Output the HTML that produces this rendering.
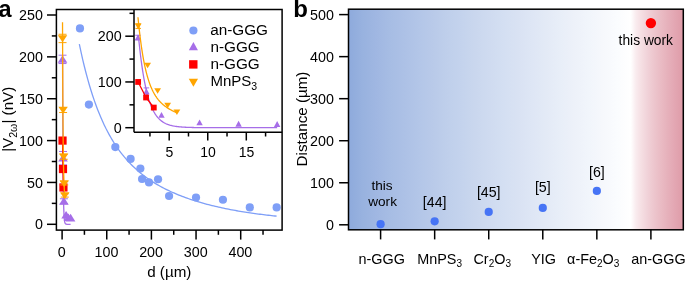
<!DOCTYPE html><html><head><meta charset="utf-8"><style>html,body{margin:0;padding:0;background:#fff;overflow:hidden}svg{display:block}</style></head><body><svg width="685" height="281" viewBox="0 0 685 281" font-family="Liberation Sans">
<defs><linearGradient id="g" x1="0" x2="1" y1="0" y2="0"><stop offset="0.0000" stop-color="rgb(142,170,220)"/><stop offset="0.0421" stop-color="rgb(152,178,223)"/><stop offset="0.0843" stop-color="rgb(160,183,226)"/><stop offset="0.1264" stop-color="rgb(167,189,228)"/><stop offset="0.1686" stop-color="rgb(173,193,230)"/><stop offset="0.2107" stop-color="rgb(179,198,232)"/><stop offset="0.2529" stop-color="rgb(185,202,233)"/><stop offset="0.2950" stop-color="rgb(191,207,235)"/><stop offset="0.3372" stop-color="rgb(196,211,237)"/><stop offset="0.3794" stop-color="rgb(202,215,238)"/><stop offset="0.4215" stop-color="rgb(207,219,240)"/><stop offset="0.4637" stop-color="rgb(212,223,242)"/><stop offset="0.5058" stop-color="rgb(217,226,243)"/><stop offset="0.5480" stop-color="rgb(222,230,245)"/><stop offset="0.5901" stop-color="rgb(227,234,246)"/><stop offset="0.6322" stop-color="rgb(232,238,248)"/><stop offset="0.6744" stop-color="rgb(237,241,249)"/><stop offset="0.7165" stop-color="rgb(241,245,251)"/><stop offset="0.7587" stop-color="rgb(246,248,252)"/><stop offset="0.8008" stop-color="rgb(250,252,254)"/><stop offset="0.8430" stop-color="rgb(255,255,255)"/><stop offset="0.8587" stop-color="rgb(249,235,238)"/><stop offset="0.8744" stop-color="rgb(245,223,227)"/><stop offset="0.8901" stop-color="rgb(241,212,218)"/><stop offset="0.9058" stop-color="rgb(238,202,209)"/><stop offset="0.9215" stop-color="rgb(235,193,201)"/><stop offset="0.9372" stop-color="rgb(233,185,194)"/><stop offset="0.9529" stop-color="rgb(230,177,187)"/><stop offset="0.9686" stop-color="rgb(228,169,181)"/><stop offset="0.9843" stop-color="rgb(225,162,174)"/><stop offset="1.0000" stop-color="rgb(223,155,168)"/></linearGradient><clipPath id="ca"><rect x="56.4" y="9.5" width="225.70000000000002" height="220.6"/></clipPath><clipPath id="ci"><rect x="134.0" y="9.5" width="148.10000000000002" height="122.69999999999999"/></clipPath></defs>
<rect width="685" height="281" fill="#fff"/>
<g style="will-change:transform">
<g clip-path="url(#ca)">
<path d="M79.33,44.16L80.99,51.97L82.65,59.31L84.31,66.24L85.97,72.77L87.63,78.93L89.28,84.75L90.94,90.25L92.6,95.45L94.26,100.36L95.92,105.02L97.57,109.43L99.23,113.61L100.89,117.57L102.55,121.33L104.21,124.91L105.86,128.31L107.52,131.54L109.18,134.61L110.84,137.54L112.5,140.34L114.15,143L115.81,145.55L117.47,147.98L119.13,150.3L120.79,152.52L122.44,154.65L124.1,156.69L125.76,158.64L127.42,160.52L129.08,162.32L130.73,164.05L132.39,165.71L134.05,167.31L135.71,168.85L137.37,170.33L139.02,171.75L140.68,173.13L142.34,174.46L144,175.74L145.66,176.98L147.32,178.17L148.97,179.33L150.63,180.45L152.29,181.53L153.95,182.58L155.61,183.59L157.26,184.58L158.92,185.53L160.58,186.46L162.24,187.36L163.9,188.23L165.55,189.07L167.21,189.9L168.87,190.69L170.53,191.47L172.19,192.23L173.84,192.96L175.5,193.68L177.16,194.37L178.82,195.05L180.48,195.71L182.13,196.35L183.79,196.98L185.45,197.59L187.11,198.18L188.77,198.76L190.42,199.33L192.08,199.88L193.74,200.42L195.4,200.94L197.06,201.45L198.71,201.95L200.37,202.44L202.03,202.92L203.69,203.38L205.35,203.83L207.01,204.28L208.66,204.71L210.32,205.13L211.98,205.55L213.64,205.95L215.3,206.35L216.95,206.73L218.61,207.11L220.27,207.48L221.93,207.84L223.59,208.19L225.24,208.53L226.9,208.87L228.56,209.2L230.22,209.52L231.88,209.84L233.53,210.14L235.19,210.45L236.85,210.74L238.51,211.03L240.17,211.31L241.82,211.59L243.48,211.86L245.14,212.12L246.8,212.38L248.46,212.63L250.11,212.88L251.77,213.12L253.43,213.35L255.09,213.59L256.75,213.81L258.4,214.03L260.06,214.25L261.72,214.46L263.38,214.67L265.04,214.87L266.69,215.07L268.35,215.27L270.01,215.46L271.67,215.64L273.33,215.83L274.99,216.01L276.64,216.18" fill="none" stroke="#7f9ff7" stroke-width="1.3" stroke-linejoin="round"/>
<circle cx="79.96" cy="28.4" r="4.1" fill="#7f9ff7"/>
<circle cx="88.89" cy="104.58" r="4.1" fill="#7f9ff7"/>
<circle cx="115.32" cy="147.11" r="4.1" fill="#7f9ff7"/>
<circle cx="130.59" cy="158.91" r="4.1" fill="#7f9ff7"/>
<circle cx="140.37" cy="168.54" r="4.1" fill="#7f9ff7"/>
<circle cx="142.07" cy="179.01" r="4.1" fill="#7f9ff7"/>
<circle cx="148.99" cy="182.44" r="4.1" fill="#7f9ff7"/>
<circle cx="158.05" cy="179.26" r="4.1" fill="#7f9ff7"/>
<circle cx="169.08" cy="196" r="4.1" fill="#7f9ff7"/>
<circle cx="196.01" cy="197.51" r="4.1" fill="#7f9ff7"/>
<circle cx="222.93" cy="199.77" r="4.1" fill="#7f9ff7"/>
<circle cx="249.81" cy="207.47" r="4.1" fill="#7f9ff7"/>
<circle cx="276.64" cy="207.47" r="4.1" fill="#7f9ff7"/>
<path d="M62.55,54.99L62.59,67.86L62.63,79.76L62.67,90.75L62.71,100.9L62.75,110.28L62.79,118.95L62.83,126.96L62.87,134.36L62.91,141.2L62.95,147.52L62.99,153.36L63.03,158.75L63.07,163.74L63.11,168.34L63.15,172.6L63.19,176.53L63.23,180.16L63.27,183.52L63.31,186.62L63.35,189.48L63.39,192.13L63.44,194.58L63.48,196.84L63.52,198.92L63.56,200.85L63.6,202.64L63.64,204.28L63.68,205.81L63.72,207.21L63.76,208.51L63.8,209.71L63.84,210.82L63.88,211.85L63.92,212.79L63.96,213.67L64,214.48L64.04,215.22L64.08,215.91L64.12,216.55L64.16,217.14L64.2,217.68L64.24,218.19L64.28,218.65L64.32,219.08L64.36,219.48L64.4,219.84L64.44,220.18L64.49,220.5L64.53,220.79L64.57,221.05L64.61,221.3L64.65,221.53L64.69,221.74L64.73,221.93L64.77,222.11L64.81,222.28L64.85,222.43L64.89,222.58L64.93,222.71L64.97,222.83L65.01,222.94L65.05,223.04L65.09,223.14L65.13,223.23L65.17,223.31L65.21,223.38L65.25,223.45L65.29,223.52L65.33,223.58L65.37,223.63L65.41,223.68L65.45,223.73L65.49,223.77L65.54,223.81L65.58,223.85L65.62,223.88L65.66,223.92L65.7,223.95L65.74,223.97L65.78,224L65.82,224.02L65.86,224.04L65.9,224.06L65.94,224.08L65.98,224.1L66.02,224.11L66.06,224.13L66.1,224.14L66.14,224.15L66.18,224.16L66.22,224.17L66.26,224.18L66.3,224.19L66.34,224.2L66.38,224.21L66.42,224.21L66.46,224.22L66.5,224.23L66.54,224.23L66.59,224.24L66.63,224.24L66.67,224.25L66.71,224.25L66.75,224.25L66.79,224.26L66.83,224.26L66.87,224.26L66.91,224.27L66.95,224.27L66.99,224.27L67.03,224.27L67.07,224.28L67.11,224.28L67.15,224.28L67.19,224.28L67.23,224.28L67.27,224.28L67.31,224.29L67.35,224.29L67.39,224.29L67.43,224.29L67.47,224.29L67.51,224.29L67.55,224.29L67.59,224.29L67.64,224.29L67.68,224.29L67.72,224.29L67.76,224.29L67.8,224.29L67.84,224.29L67.88,224.3L67.92,224.3L67.96,224.3L68,224.3L68.04,224.3L68.08,224.3L68.12,224.3L68.16,224.3L68.2,224.3L68.24,224.3L68.28,224.3L68.32,224.3L68.36,224.3L68.4,224.3L68.44,224.3L68.48,224.3L68.52,224.3L68.56,224.3L68.6,224.3L68.64,224.3L68.69,224.3L68.73,224.3L68.77,224.3L68.81,224.3L68.85,224.3L68.89,224.3L68.93,224.3L68.97,224.3L69.01,224.3L69.05,224.3L69.09,224.3L69.13,224.3L69.17,224.3L69.21,224.3L69.25,224.3L69.29,224.3L69.33,224.3L69.37,224.3L69.41,224.3L69.45,224.3L69.49,224.3L69.53,224.3L69.57,224.3L69.61,224.3L69.65,224.3L69.69,224.3L69.74,224.3L69.78,224.3L69.82,224.3L69.86,224.3L69.9,224.3L69.94,224.3L69.98,224.3L70.02,224.3L70.06,224.3L70.1,224.3L70.14,224.3L70.18,224.3L70.22,224.3L70.26,224.3L70.3,224.3L70.34,224.3L70.38,224.3L70.42,224.3L70.46,224.3L70.5,224.3L70.54,224.3L70.58,224.3" fill="none" stroke="#a66ee8" stroke-width="1.3" stroke-linejoin="round"/>
<line x1="62.52" y1="55.19" x2="62.52" y2="63.56" stroke="#a66ee8" stroke-width="1"/>
<line x1="58.52" y1="55.19" x2="66.52" y2="55.19" stroke="#a66ee8" stroke-width="1"/>
<line x1="58.52" y1="63.56" x2="66.52" y2="63.56" stroke="#a66ee8" stroke-width="1"/>
<path d="M62.52,55.19L67.32,62.79L57.72,62.79Z" fill="#a66ee8"/>
<line x1="63.01" y1="151.46" x2="63.01" y2="164.86" stroke="#a66ee8" stroke-width="1"/>
<line x1="59.01" y1="151.46" x2="67.01" y2="151.46" stroke="#a66ee8" stroke-width="1"/>
<line x1="59.01" y1="164.86" x2="67.01" y2="164.86" stroke="#a66ee8" stroke-width="1"/>
<path d="M63.01,153.98L67.81,161.58L58.21,161.58Z" fill="#a66ee8"/>
<line x1="63.89" y1="198.77" x2="63.89" y2="203.79" stroke="#a66ee8" stroke-width="1"/>
<line x1="59.89" y1="198.77" x2="67.89" y2="198.77" stroke="#a66ee8" stroke-width="1"/>
<line x1="59.89" y1="203.79" x2="67.89" y2="203.79" stroke="#a66ee8" stroke-width="1"/>
<path d="M63.89,197.1L68.69,204.7L59.09,204.7Z" fill="#a66ee8"/>
<path d="M66.09,210.91L70.89,218.51L61.29,218.51Z" fill="#a66ee8"/>
<path d="M68.35,213.42L73.15,221.02L63.55,221.02Z" fill="#a66ee8"/>
<path d="M70.58,213.84L75.38,221.44L65.78,221.44Z" fill="#a66ee8"/>
<path d="M62.53,140.58L62.99,169.04L63.44,187.46" fill="none" stroke="#ff0000" stroke-width="1.3" stroke-linejoin="round"/>
<rect x="58.43" y="136.48" width="8.2" height="8.2" fill="#ff0000"/>
<rect x="58.89" y="164.94" width="8.2" height="8.2" fill="#ff0000"/>
<rect x="59.34" y="183.36" width="8.2" height="8.2" fill="#ff0000"/>
<path d="M62.52,22.26L62.55,29.56L62.57,36.53L62.59,43.17L62.62,49.51L62.64,55.56L62.66,61.33L62.68,66.84L62.71,72.1L62.73,77.13L62.75,81.93L62.77,86.51L62.8,90.89L62.82,95.07L62.84,99.07L62.87,102.9L62.89,106.55L62.91,110.05L62.93,113.4L62.96,116.6L62.98,119.66L63,122.6L63.03,125.41L63.05,128.1L63.07,130.68L63.09,133.15L63.12,135.52L63.14,137.79L63.16,139.97L63.18,142.06L63.21,144.07L63.23,145.99L63.25,147.84L63.28,149.62L63.3,151.33L63.32,152.98L63.34,154.56L63.37,156.08L63.39,157.54L63.41,158.95L63.44,160.31L63.46,161.61L63.48,162.88L63.5,164.09L63.53,165.26L63.55,166.4L63.57,167.49L63.59,168.54L63.62,169.56L63.64,170.55L63.66,171.5L63.69,172.43L63.71,173.32L63.73,174.18L63.75,175.02L63.78,175.83L63.8,176.62L63.82,177.38L63.85,178.12L63.87,178.84L63.89,179.54L63.91,180.22L63.94,180.88L63.96,181.52L63.98,182.15L64,182.75L64.03,183.34L64.05,183.92L64.07,184.48L64.1,185.03L64.12,185.56L64.14,186.08L64.16,186.59L64.19,187.09L64.21,187.57L64.23,188.05L64.26,188.51L64.28,188.96L64.3,189.41L64.32,189.84L64.35,190.26L64.37,190.68L64.39,191.09L64.41,191.49L64.44,191.88L64.46,192.26L64.48,192.64L64.51,193.01L64.53,193.37L64.55,193.73L64.57,194.07L64.6,194.42L64.62,194.75L64.64,195.09L64.67,195.41L64.69,195.73L64.71,196.05L64.73,196.36L64.76,196.66L64.78,196.96" fill="none" stroke="#ffa500" stroke-width="1.3" stroke-linejoin="round"/>
<line x1="62.54" y1="34.26" x2="62.54" y2="42.63" stroke="#ffa500" stroke-width="1"/>
<line x1="58.54" y1="34.26" x2="66.54" y2="34.26" stroke="#ffa500" stroke-width="1"/>
<line x1="58.54" y1="42.63" x2="66.54" y2="42.63" stroke="#ffa500" stroke-width="1"/>
<path d="M62.54,42.29L67.24,35.29L57.84,35.29Z" fill="#ffa500"/>
<line x1="63.08" y1="107.51" x2="63.08" y2="112.53" stroke="#ffa500" stroke-width="1"/>
<line x1="59.08" y1="107.51" x2="67.08" y2="107.51" stroke="#ffa500" stroke-width="1"/>
<line x1="59.08" y1="112.53" x2="67.08" y2="112.53" stroke="#ffa500" stroke-width="1"/>
<path d="M63.08,113.87L67.78,106.87L58.38,106.87Z" fill="#ffa500"/>
<line x1="63.66" y1="154.23" x2="63.66" y2="159.25" stroke="#ffa500" stroke-width="1"/>
<line x1="59.66" y1="154.23" x2="67.66" y2="154.23" stroke="#ffa500" stroke-width="1"/>
<line x1="59.66" y1="159.25" x2="67.66" y2="159.25" stroke="#ffa500" stroke-width="1"/>
<path d="M63.66,160.59L68.36,153.59L58.96,153.59Z" fill="#ffa500"/>
<line x1="64.24" y1="181.6" x2="64.24" y2="184.95" stroke="#ffa500" stroke-width="1"/>
<line x1="60.24" y1="181.6" x2="68.24" y2="181.6" stroke="#ffa500" stroke-width="1"/>
<line x1="60.24" y1="184.95" x2="68.24" y2="184.95" stroke="#ffa500" stroke-width="1"/>
<path d="M64.24,187.13L68.94,180.13L59.54,180.13Z" fill="#ffa500"/>
<line x1="64.78" y1="193.74" x2="64.78" y2="197.09" stroke="#ffa500" stroke-width="1"/>
<line x1="60.78" y1="193.74" x2="68.78" y2="193.74" stroke="#ffa500" stroke-width="1"/>
<line x1="60.78" y1="197.09" x2="68.78" y2="197.09" stroke="#ffa500" stroke-width="1"/>
<path d="M64.78,199.27L69.48,192.27L60.08,192.27Z" fill="#ffa500"/>
</g>
<rect x="134.0" y="9.5" width="148.10000000000002" height="122.69999999999999" fill="#fff"/>
<g clip-path="url(#ci)">
<path d="M138.36,35.18L139.06,42.21L139.75,48.71L140.45,54.72L141.15,60.27L141.85,65.39L142.54,70.13L143.24,74.51L143.94,78.55L144.64,82.29L145.33,85.74L146.03,88.93L146.73,91.88L147.43,94.6L148.12,97.12L148.82,99.45L149.52,101.59L150.22,103.58L150.91,105.41L151.61,107.11L152.31,108.67L153.01,110.12L153.7,111.46L154.4,112.69L155.1,113.83L155.79,114.89L156.49,115.86L157.19,116.76L157.89,117.59L158.58,118.36L159.28,119.07L159.98,119.73L160.68,120.33L161.37,120.89L162.07,121.41L162.77,121.89L163.47,122.33L164.16,122.74L164.86,123.12L165.56,123.47L166.26,123.79L166.95,124.08L167.65,124.36L168.35,124.61L169.05,124.85L169.74,125.07L170.44,125.27L171.14,125.45L171.83,125.62L172.53,125.78L173.23,125.93L173.93,126.06L174.62,126.19L175.32,126.3L176.02,126.41L176.72,126.51L177.41,126.6L178.11,126.68L178.81,126.76L179.51,126.83L180.2,126.9L180.9,126.96L181.6,127.01L182.3,127.07L182.99,127.11L183.69,127.16L184.39,127.2L185.08,127.24L185.78,127.27L186.48,127.31L187.18,127.34L187.87,127.36L188.57,127.39L189.27,127.41L189.97,127.43L190.66,127.45L191.36,127.47L192.06,127.49L192.76,127.51L193.45,127.52L194.15,127.53L194.85,127.55L195.55,127.56L196.24,127.57L196.94,127.58L197.64,127.59L198.34,127.6L199.03,127.6L199.73,127.61L200.43,127.62L201.12,127.62L201.82,127.63L202.52,127.64L203.22,127.64L203.91,127.65L204.61,127.65L205.31,127.65L206.01,127.66L206.7,127.66L207.4,127.66L208.1,127.67L208.8,127.67L209.49,127.67L210.19,127.67L210.89,127.68L211.59,127.68L212.28,127.68L212.98,127.68L213.68,127.68L214.38,127.68L215.07,127.68L215.77,127.69L216.47,127.69L217.16,127.69L217.86,127.69L218.56,127.69L219.26,127.69L219.95,127.69L220.65,127.69L221.35,127.69L222.05,127.69L222.74,127.69L223.44,127.69L224.14,127.69L224.84,127.69L225.53,127.7L226.23,127.7L226.93,127.7L227.63,127.7L228.32,127.7L229.02,127.7L229.72,127.7L230.42,127.7L231.11,127.7L231.81,127.7L232.51,127.7L233.2,127.7L233.9,127.7L234.6,127.7L235.3,127.7L235.99,127.7L236.69,127.7L237.39,127.7L238.09,127.7L238.78,127.7L239.48,127.7L240.18,127.7L240.88,127.7L241.57,127.7L242.27,127.7L242.97,127.7L243.67,127.7L244.36,127.7L245.06,127.7L245.76,127.7L246.45,127.7L247.15,127.7L247.85,127.7L248.55,127.7L249.24,127.7L249.94,127.7L250.64,127.7L251.34,127.7L252.03,127.7L252.73,127.7L253.43,127.7L254.13,127.7L254.82,127.7L255.52,127.7L256.22,127.7L256.92,127.7L257.61,127.7L258.31,127.7L259.01,127.7L259.71,127.7L260.4,127.7L261.1,127.7L261.8,127.7L262.49,127.7L263.19,127.7L263.89,127.7L264.59,127.7L265.28,127.7L265.98,127.7L266.68,127.7L267.38,127.7L268.07,127.7L268.77,127.7L269.47,127.7L270.17,127.7L270.86,127.7L271.56,127.7L272.26,127.7L272.96,127.7L273.65,127.7L274.35,127.7L275.05,127.7L275.75,127.7L276.44,127.7L277.14,127.7" fill="none" stroke="#a66ee8" stroke-width="1.3" stroke-linejoin="round"/>
<line x1="137.97" y1="35.28" x2="137.97" y2="39.86" stroke="#a66ee8" stroke-width="1"/>
<line x1="135.22" y1="35.28" x2="140.72" y2="35.28" stroke="#a66ee8" stroke-width="1"/>
<line x1="135.22" y1="39.86" x2="140.72" y2="39.86" stroke="#a66ee8" stroke-width="1"/>
<path d="M137.97,34.38L141.17,40.18L134.77,40.18Z" fill="#a66ee8"/>
<line x1="146.38" y1="87.9" x2="146.38" y2="95.22" stroke="#a66ee8" stroke-width="1"/>
<line x1="143.63" y1="87.9" x2="149.13" y2="87.9" stroke="#a66ee8" stroke-width="1"/>
<line x1="143.63" y1="95.22" x2="149.13" y2="95.22" stroke="#a66ee8" stroke-width="1"/>
<path d="M146.38,88.37L149.58,94.17L143.18,94.17Z" fill="#a66ee8"/>
<path d="M161.49,111.93L164.69,117.73L158.29,117.73Z" fill="#a66ee8"/>
<path d="M199.58,119.48L202.78,125.28L196.38,125.28Z" fill="#a66ee8"/>
<path d="M238.59,120.85L241.79,126.65L235.39,126.65Z" fill="#a66ee8"/>
<path d="M277.14,121.08L280.34,126.88L273.94,126.88Z" fill="#a66ee8"/>
<path d="M138.13,81.95L146.07,97.5L153.78,107.57" fill="none" stroke="#ff0000" stroke-width="1.3" stroke-linejoin="round"/>
<rect x="135.23" y="79.05" width="5.8" height="5.8" fill="#ff0000"/>
<rect x="143.17" y="94.6" width="5.8" height="5.8" fill="#ff0000"/>
<rect x="150.88" y="104.67" width="5.8" height="5.8" fill="#ff0000"/>
<path d="M137.97,17.29L138.37,21.28L138.76,25.09L139.15,28.72L139.55,32.18L139.94,35.49L140.33,38.64L140.73,41.66L141.12,44.53L141.51,47.28L141.91,49.9L142.3,52.4L142.69,54.8L143.09,57.08L143.48,59.27L143.87,61.36L144.27,63.36L144.66,65.27L145.05,67.1L145.45,68.84L145.84,70.52L146.23,72.12L146.63,73.66L147.02,75.13L147.41,76.54L147.81,77.89L148.2,79.18L148.59,80.42L148.99,81.62L149.38,82.76L149.77,83.85L150.17,84.91L150.56,85.92L150.95,86.89L151.35,87.83L151.74,88.72L152.13,89.59L152.53,90.42L152.92,91.22L153.31,91.99L153.71,92.73L154.1,93.44L154.49,94.13L154.89,94.8L155.28,95.44L155.67,96.06L156.07,96.65L156.46,97.23L156.85,97.79L157.25,98.33L157.64,98.85L158.03,99.35L158.43,99.84L158.82,100.31L159.21,100.77L159.61,101.21L160,101.64L160.39,102.06L160.79,102.47L161.18,102.86L161.57,103.24L161.97,103.61L162.36,103.97L162.75,104.32L163.14,104.66L163.54,105L163.93,105.32L164.32,105.63L164.72,105.94L165.11,106.24L165.5,106.53L165.9,106.82L166.29,107.09L166.68,107.37L167.08,107.63L167.47,107.89L167.86,108.14L168.26,108.39L168.65,108.63L169.04,108.87L169.44,109.1L169.83,109.33L170.22,109.55L170.62,109.77L171.01,109.98L171.4,110.19L171.8,110.4L172.19,110.6L172.58,110.8L172.98,110.99L173.37,111.18L173.76,111.37L174.16,111.55L174.55,111.74L174.94,111.91L175.34,112.09L175.73,112.26L176.12,112.43L176.52,112.6L176.91,112.76" fill="none" stroke="#ffa500" stroke-width="1.3" stroke-linejoin="round"/>
<line x1="138.21" y1="23.85" x2="138.21" y2="28.42" stroke="#ffa500" stroke-width="1"/>
<line x1="135.46" y1="23.85" x2="140.96" y2="23.85" stroke="#ffa500" stroke-width="1"/>
<line x1="135.46" y1="28.42" x2="140.96" y2="28.42" stroke="#ffa500" stroke-width="1"/>
<path d="M138.21,29.22L141.61,23.62L134.81,23.62Z" fill="#ffa500"/>
<path d="M147.61,68.33L151.01,62.73L144.21,62.73Z" fill="#ffa500"/>
<path d="M157.63,93.86L161.03,88.26L154.23,88.26Z" fill="#ffa500"/>
<path d="M167.66,108.36L171.06,102.76L164.26,102.76Z" fill="#ffa500"/>
<path d="M176.91,115L180.31,109.4L173.51,109.4Z" fill="#ffa500"/>
</g>
<line x1="134" y1="9.5" x2="134" y2="132.2" stroke="#000" stroke-width="1.5"/>
<line x1="134" y1="132.2" x2="282.1" y2="132.2" stroke="#000" stroke-width="1.5"/>
<line x1="125.3" y1="127.7" x2="134" y2="127.7" stroke="#000" stroke-width="1.5"/>
<line x1="125.3" y1="81.95" x2="134" y2="81.95" stroke="#000" stroke-width="1.5"/>
<line x1="125.3" y1="36.2" x2="134" y2="36.2" stroke="#000" stroke-width="1.5"/>
<line x1="129.5" y1="104.83" x2="134" y2="104.83" stroke="#000" stroke-width="1.5"/>
<line x1="129.5" y1="59.08" x2="134" y2="59.08" stroke="#000" stroke-width="1.5"/>
<line x1="129.5" y1="13.33" x2="134" y2="13.33" stroke="#000" stroke-width="1.5"/>
<line x1="169.2" y1="132.2" x2="169.2" y2="140.5" stroke="#000" stroke-width="1.5"/>
<line x1="207.75" y1="132.2" x2="207.75" y2="140.5" stroke="#000" stroke-width="1.5"/>
<line x1="246.3" y1="132.2" x2="246.3" y2="140.5" stroke="#000" stroke-width="1.5"/>
<line x1="149.93" y1="132.2" x2="149.93" y2="136.5" stroke="#000" stroke-width="1.5"/>
<line x1="188.48" y1="132.2" x2="188.48" y2="136.5" stroke="#000" stroke-width="1.5"/>
<line x1="227.03" y1="132.2" x2="227.03" y2="136.5" stroke="#000" stroke-width="1.5"/>
<line x1="265.58" y1="132.2" x2="265.58" y2="136.5" stroke="#000" stroke-width="1.5"/>
<text x="121.7" y="132.7" font-size="14.3" text-anchor="end" font-weight="normal" >0</text>
<text x="121.7" y="86.95" font-size="14.3" text-anchor="end" font-weight="normal" >100</text>
<text x="121.7" y="41.2" font-size="14.3" text-anchor="end" font-weight="normal" >200</text>
<text x="169.4" y="157" font-size="14.0" text-anchor="middle" font-weight="normal" >5</text>
<text x="207.95" y="157" font-size="14.0" text-anchor="middle" font-weight="normal" >10</text>
<text x="246.5" y="157" font-size="14.0" text-anchor="middle" font-weight="normal" >15</text>
<circle cx="193.4" cy="30.5" r="4.1" fill="#7f9ff7"/>
<path d="M193.4,42.09L197.95,50.29L188.85,50.29Z" fill="#a66ee8"/>
<rect x="189.1" y="60.2" width="8.4" height="8.4" fill="#ff0000"/>
<path d="M193.4,86.86L198.05,78.76L188.75,78.76Z" fill="#ffa500"/>
<text x="210.2" y="35" font-size="15.3" text-anchor="start" font-weight="normal" >an-GGG</text>
<text x="210.4" y="52" font-size="15.3" text-anchor="start" font-weight="normal" >n-GGG</text>
<text x="210.4" y="69" font-size="15.3" text-anchor="start" font-weight="normal" >n-GGG</text>
<text x="210.4" y="86" font-size="15.0" text-anchor="start" font-weight="normal" >MnPS<tspan font-size="10.5" dy="3.5">3</tspan></text>
<rect x="56.4" y="9.5" width="225.7" height="220.6" fill="none" stroke="#000" stroke-width="1.5"/>
<line x1="47" y1="224.3" x2="56.4" y2="224.3" stroke="#000" stroke-width="1.5"/>
<line x1="47" y1="182.44" x2="56.4" y2="182.44" stroke="#000" stroke-width="1.5"/>
<line x1="47" y1="140.58" x2="56.4" y2="140.58" stroke="#000" stroke-width="1.5"/>
<line x1="47" y1="98.72" x2="56.4" y2="98.72" stroke="#000" stroke-width="1.5"/>
<line x1="47" y1="56.86" x2="56.4" y2="56.86" stroke="#000" stroke-width="1.5"/>
<line x1="47" y1="15" x2="56.4" y2="15" stroke="#000" stroke-width="1.5"/>
<line x1="51.8" y1="203.37" x2="56.4" y2="203.37" stroke="#000" stroke-width="1.5"/>
<line x1="51.8" y1="161.51" x2="56.4" y2="161.51" stroke="#000" stroke-width="1.5"/>
<line x1="51.8" y1="119.65" x2="56.4" y2="119.65" stroke="#000" stroke-width="1.5"/>
<line x1="51.8" y1="77.79" x2="56.4" y2="77.79" stroke="#000" stroke-width="1.5"/>
<line x1="51.8" y1="35.93" x2="56.4" y2="35.93" stroke="#000" stroke-width="1.5"/>
<text x="42.85" y="229.36" font-size="14.3" text-anchor="end" font-weight="normal" >0</text>
<text x="42.85" y="187.5" font-size="14.3" text-anchor="end" font-weight="normal" >50</text>
<text x="42.85" y="145.64" font-size="14.3" text-anchor="end" font-weight="normal" >100</text>
<text x="42.85" y="103.78" font-size="14.3" text-anchor="end" font-weight="normal" >150</text>
<text x="42.85" y="61.92" font-size="14.3" text-anchor="end" font-weight="normal" >200</text>
<text x="42.85" y="20.06" font-size="14.3" text-anchor="end" font-weight="normal" >250</text>
<line x1="62.1" y1="230.1" x2="62.1" y2="239.6" stroke="#000" stroke-width="1.5"/>
<line x1="106.75" y1="230.1" x2="106.75" y2="239.6" stroke="#000" stroke-width="1.5"/>
<line x1="151.4" y1="230.1" x2="151.4" y2="239.6" stroke="#000" stroke-width="1.5"/>
<line x1="196.05" y1="230.1" x2="196.05" y2="239.6" stroke="#000" stroke-width="1.5"/>
<line x1="240.7" y1="230.1" x2="240.7" y2="239.6" stroke="#000" stroke-width="1.5"/>
<line x1="84.42" y1="230.1" x2="84.42" y2="234.8" stroke="#000" stroke-width="1.5"/>
<line x1="129.07" y1="230.1" x2="129.07" y2="234.8" stroke="#000" stroke-width="1.5"/>
<line x1="173.72" y1="230.1" x2="173.72" y2="234.8" stroke="#000" stroke-width="1.5"/>
<line x1="218.38" y1="230.1" x2="218.38" y2="234.8" stroke="#000" stroke-width="1.5"/>
<line x1="263.03" y1="230.1" x2="263.03" y2="234.8" stroke="#000" stroke-width="1.5"/>
<text x="61.8" y="257" font-size="14.3" text-anchor="middle" font-weight="normal" >0</text>
<text x="106.45" y="257" font-size="14.3" text-anchor="middle" font-weight="normal" >100</text>
<text x="151.1" y="257" font-size="14.3" text-anchor="middle" font-weight="normal" >200</text>
<text x="195.75" y="257" font-size="14.3" text-anchor="middle" font-weight="normal" >300</text>
<text x="240.4" y="257" font-size="14.3" text-anchor="middle" font-weight="normal" >400</text>
<text x="169.3" y="277.3" font-size="15.2" text-anchor="middle" font-weight="normal" >d (µm)</text>
<text transform="translate(13.4,119.3) rotate(-90)" font-size="15.2" text-anchor="middle">|V<tspan font-size="10.6" dy="3.2">2ω</tspan><tspan dy="-3.2">| (nV)</tspan></text>
<text x="-1.5" y="17.4" font-size="23.5" text-anchor="start" font-weight="bold" >a</text>
<rect x="348.5" y="9.2" width="334.8" height="220.6" fill="url(#g)"/>
<circle cx="380.6" cy="224.17" r="4.1" fill="#4674f5"/>
<circle cx="434.66" cy="221.31" r="4.1" fill="#4674f5"/>
<circle cx="488.72" cy="211.89" r="4.1" fill="#4674f5"/>
<circle cx="542.78" cy="207.9" r="4.1" fill="#4674f5"/>
<circle cx="596.84" cy="190.96" r="4.1" fill="#4674f5"/>
<circle cx="650.9" cy="23.1" r="5.2" fill="#ff0000"/>
<text x="382.1" y="189.5" font-size="13.6" text-anchor="middle" font-weight="normal" >this</text>
<text x="382.6" y="206.2" font-size="13.6" text-anchor="middle" font-weight="normal" >work</text>
<text x="434.66" y="206.8" font-size="14.2" text-anchor="middle" font-weight="normal" >[44]</text>
<text x="488.72" y="197.3" font-size="14.2" text-anchor="middle" font-weight="normal" >[45]</text>
<text x="542.78" y="192.4" font-size="14.2" text-anchor="middle" font-weight="normal" >[5]</text>
<text x="596.84" y="177.4" font-size="14.2" text-anchor="middle" font-weight="normal" >[6]</text>
<text x="645.8" y="44.5" font-size="13.8" text-anchor="middle" font-weight="normal" >this work</text>
<rect x="348.5" y="9.2" width="334.8" height="220.6" fill="none" stroke="#000" stroke-width="1.5"/>
<line x1="339.1" y1="224.8" x2="348.5" y2="224.8" stroke="#000" stroke-width="1.5"/>
<text x="333.9" y="229.86" font-size="14.3" text-anchor="end" font-weight="normal" >0</text>
<line x1="339.1" y1="182.76" x2="348.5" y2="182.76" stroke="#000" stroke-width="1.5"/>
<text x="333.9" y="187.82" font-size="14.3" text-anchor="end" font-weight="normal" >100</text>
<line x1="339.1" y1="140.72" x2="348.5" y2="140.72" stroke="#000" stroke-width="1.5"/>
<text x="333.9" y="145.78" font-size="14.3" text-anchor="end" font-weight="normal" >200</text>
<line x1="339.1" y1="98.68" x2="348.5" y2="98.68" stroke="#000" stroke-width="1.5"/>
<text x="333.9" y="103.74" font-size="14.3" text-anchor="end" font-weight="normal" >300</text>
<line x1="339.1" y1="56.64" x2="348.5" y2="56.64" stroke="#000" stroke-width="1.5"/>
<text x="333.9" y="61.7" font-size="14.3" text-anchor="end" font-weight="normal" >400</text>
<line x1="339.1" y1="14.6" x2="348.5" y2="14.6" stroke="#000" stroke-width="1.5"/>
<text x="333.9" y="19.66" font-size="14.3" text-anchor="end" font-weight="normal" >500</text>
<line x1="380.6" y1="229.8" x2="380.6" y2="239.4" stroke="#000" stroke-width="1.5"/>
<line x1="434.66" y1="229.8" x2="434.66" y2="239.4" stroke="#000" stroke-width="1.5"/>
<line x1="488.72" y1="229.8" x2="488.72" y2="239.4" stroke="#000" stroke-width="1.5"/>
<line x1="542.78" y1="229.8" x2="542.78" y2="239.4" stroke="#000" stroke-width="1.5"/>
<line x1="596.84" y1="229.8" x2="596.84" y2="239.4" stroke="#000" stroke-width="1.5"/>
<line x1="650.9" y1="229.8" x2="650.9" y2="239.4" stroke="#000" stroke-width="1.5"/>
<text x="381.7" y="264" font-size="14.4" text-anchor="middle" font-weight="normal" >n-GGG</text>
<text x="439.66" y="264" font-size="14.4" text-anchor="middle" font-weight="normal" >MnPS<tspan font-size="10" dy="3.3">3</tspan></text>
<text x="492.22" y="264" font-size="14.4" text-anchor="middle" font-weight="normal" >Cr<tspan font-size="10" dy="3.3">2</tspan><tspan dy="-3.3">O</tspan><tspan font-size="10" dy="3.3">3</tspan></text>
<text x="543.58" y="264" font-size="14.4" text-anchor="middle" font-weight="normal" >YIG</text>
<text x="593.24" y="264" font-size="14.4" text-anchor="middle" font-weight="normal" >α-Fe<tspan font-size="10" dy="3.3">2</tspan><tspan dy="-3.3">O</tspan><tspan font-size="10" dy="3.3">3</tspan></text>
<text x="658.5" y="264" font-size="14.4" text-anchor="middle" font-weight="normal" >an-GGG</text>
<text transform="translate(306.8,119) rotate(-90)" font-size="15.2" text-anchor="middle">Distance (µm)</text>
<text x="293.3" y="17.1" font-size="24" text-anchor="start" font-weight="bold" >b</text>
</g></svg></body></html>
